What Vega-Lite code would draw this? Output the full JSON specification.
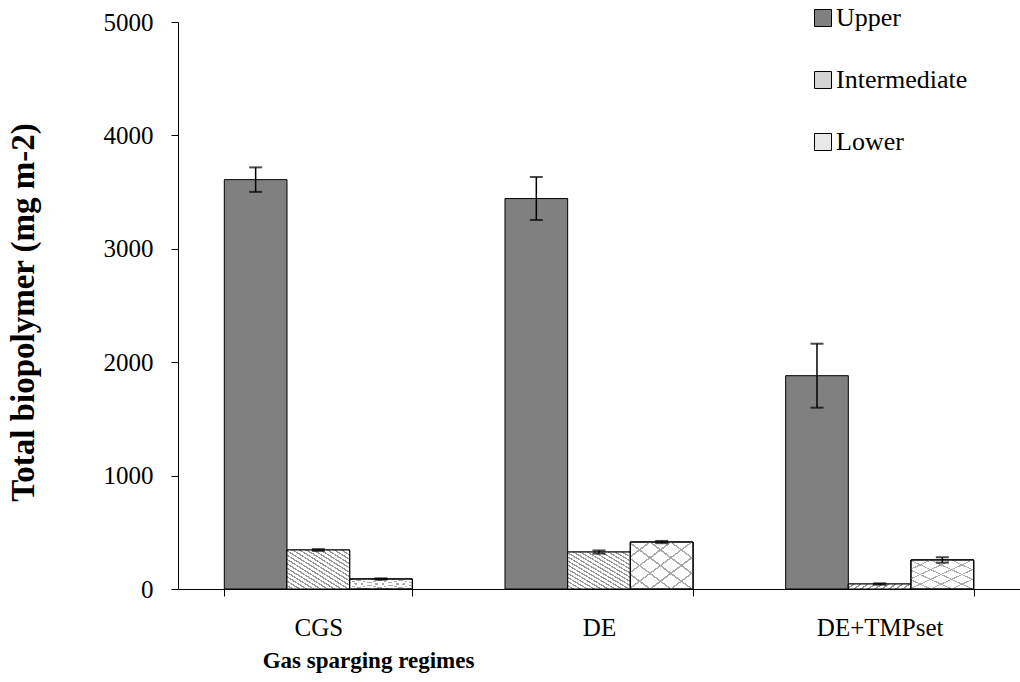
{
  "$schema": "https://vega.github.io/schema/vega-lite/v6.json",
  "width": 842,
  "height": 567,
  "autosize": {"type": "none"},
  "padding": {"left": 178, "top": 22, "right": 0, "bottom": 93},
  "background": "white",
  "config": {
    "font": "Liberation Serif",
    "view": {"stroke": null},
    "axis": {"grid": false, "domainColor": "#000", "tickColor": "#000", "labelColor": "#000", "titleColor": "#000", "labelFont": "Liberation Serif", "titleFont": "Liberation Serif"},
    "legend": {"labelFont": "Liberation Serif", "titleFont": "Liberation Serif"}
  },
  "data": {
    "values": [
      {"regime": "CGS", "position": "Upper", "value": 3610, "lo": 3502, "hi": 3718},
      {"regime": "CGS", "position": "Intermediate", "value": 344, "lo": 336, "hi": 352},
      {"regime": "CGS", "position": "Lower", "value": 88, "lo": 82, "hi": 94},
      {"regime": "DE", "position": "Upper", "value": 3443, "lo": 3254, "hi": 3633},
      {"regime": "DE", "position": "Intermediate", "value": 326, "lo": 312, "hi": 340},
      {"regime": "DE", "position": "Lower", "value": 414, "lo": 404, "hi": 424},
      {"regime": "DE+TMPset", "position": "Upper", "value": 1881, "lo": 1599, "hi": 2163},
      {"regime": "DE+TMPset", "position": "Intermediate", "value": 44, "lo": 38, "hi": 50},
      {"regime": "DE+TMPset", "position": "Lower", "value": 256, "lo": 232, "hi": 280}
    ]
  },
  "encoding": {
    "x": {
      "field": "regime", "type": "nominal", "sort": ["CGS", "DE", "DE+TMPset"],
      "scale": {"paddingInner": 0.33, "paddingOuter": 0.165},
      "axis": {
        "title": "Gas sparging regimes", "titleFontSize": 23, "titleFontWeight": "bold",
        "labelFontSize": 25, "labelAngle": 0, "tickBand": "extent", "tickSize": 7, "labelPadding": 19,
        "titleX": 190, "titleY": 78, "titleBaseline": "alphabetic", "titleAlign": "center"
      }
    },
    "xOffset": {
      "field": "position", "type": "nominal",
      "scale": {"domain": ["Upper", "Intermediate", "Lower"], "paddingInner": 0, "paddingOuter": 0}
    }
  },
  "layer": [
    {
      "mark": {"type": "bar", "stroke": "#000", "strokeWidth": 1},
      "encoding": {
        "y": {
          "field": "value", "type": "quantitative",
          "scale": {"domain": [0, 5000], "nice": false},
          "axis": {
            "title": "Total biopolymer (mg m-2)", "titleFontSize": 33, "titleFontWeight": "bold",
            "labelFontSize": 25, "values": [0, 1000, 2000, 3000, 4000, 5000], "format": "d",
            "tickSize": 7, "labelPadding": 18,
            "titleX": -155, "titleY": 290, "titleBaseline": "middle", "titleAlign": "center"
          }
        },
        "color": {
          "field": "position", "type": "nominal",
          "scale": {"domain": ["Upper", "Intermediate", "Lower"], "range": ["#808080", "#d4d4d4", "#e8e8e8"]},
          "legend": {
            "orient": "none", "legendX": 632, "legendY": -17, "title": null,
            "symbolType": "square", "symbolSize": 289, "symbolStrokeColor": "#000", "symbolStrokeWidth": 1,
            "labelFontSize": 26, "labelFont": "Liberation Serif", "labelColor": "#000",
            "rowPadding": 36, "labelOffset": 0, "padding": 0,
            "labelExpr": "datum.label",
            "encode": {"labels": {"update": {"font": {"value": "Liberation Serif"}, "fontSize": {"value": 26}}}}
          }
        }
      }
    },
    {
      "transform": [{"filter": "datum.position === 'Intermediate'"}],
      "mark": {
        "type": "bar", "stroke": "#000", "strokeWidth": 1,
        "fill": {
          "gradient": "linear", "x1": 0, "y1": 1, "x2": 1, "y2": 0,
          "stops": [
            {"offset": 0, "color": "#ffffff"}, {"offset": 0.0361, "color": "#ffffff"}, {"offset": 0.0361, "color": "#999999"}, {"offset": 0.0556, "color": "#999999"},
            {"offset": 0.0556, "color": "#ffffff"}, {"offset": 0.0917, "color": "#ffffff"}, {"offset": 0.0917, "color": "#999999"}, {"offset": 0.1111, "color": "#999999"},
            {"offset": 0.1111, "color": "#ffffff"}, {"offset": 0.1472, "color": "#ffffff"}, {"offset": 0.1472, "color": "#999999"}, {"offset": 0.1667, "color": "#999999"},
            {"offset": 0.1667, "color": "#ffffff"}, {"offset": 0.2028, "color": "#ffffff"}, {"offset": 0.2028, "color": "#999999"}, {"offset": 0.2222, "color": "#999999"},
            {"offset": 0.2222, "color": "#ffffff"}, {"offset": 0.2583, "color": "#ffffff"}, {"offset": 0.2583, "color": "#999999"}, {"offset": 0.2778, "color": "#999999"},
            {"offset": 0.2778, "color": "#ffffff"}, {"offset": 0.3139, "color": "#ffffff"}, {"offset": 0.3139, "color": "#999999"}, {"offset": 0.3333, "color": "#999999"},
            {"offset": 0.3333, "color": "#ffffff"}, {"offset": 0.3694, "color": "#ffffff"}, {"offset": 0.3694, "color": "#999999"}, {"offset": 0.3889, "color": "#999999"},
            {"offset": 0.3889, "color": "#ffffff"}, {"offset": 0.425, "color": "#ffffff"}, {"offset": 0.425, "color": "#999999"}, {"offset": 0.4444, "color": "#999999"},
            {"offset": 0.4444, "color": "#ffffff"}, {"offset": 0.4806, "color": "#ffffff"}, {"offset": 0.4806, "color": "#999999"}, {"offset": 0.5, "color": "#999999"},
            {"offset": 0.5, "color": "#ffffff"}, {"offset": 0.5361, "color": "#ffffff"}, {"offset": 0.5361, "color": "#999999"}, {"offset": 0.5556, "color": "#999999"},
            {"offset": 0.5556, "color": "#ffffff"}, {"offset": 0.5917, "color": "#ffffff"}, {"offset": 0.5917, "color": "#999999"}, {"offset": 0.6111, "color": "#999999"},
            {"offset": 0.6111, "color": "#ffffff"}, {"offset": 0.6472, "color": "#ffffff"}, {"offset": 0.6472, "color": "#999999"}, {"offset": 0.6667, "color": "#999999"},
            {"offset": 0.6667, "color": "#ffffff"}, {"offset": 0.7028, "color": "#ffffff"}, {"offset": 0.7028, "color": "#999999"}, {"offset": 0.7222, "color": "#999999"},
            {"offset": 0.7222, "color": "#ffffff"}, {"offset": 0.7583, "color": "#ffffff"}, {"offset": 0.7583, "color": "#999999"}, {"offset": 0.7778, "color": "#999999"},
            {"offset": 0.7778, "color": "#ffffff"}, {"offset": 0.8139, "color": "#ffffff"}, {"offset": 0.8139, "color": "#999999"}, {"offset": 0.8333, "color": "#999999"},
            {"offset": 0.8333, "color": "#ffffff"}, {"offset": 0.8694, "color": "#ffffff"}, {"offset": 0.8694, "color": "#999999"}, {"offset": 0.8889, "color": "#999999"},
            {"offset": 0.8889, "color": "#ffffff"}, {"offset": 0.925, "color": "#ffffff"}, {"offset": 0.925, "color": "#999999"}, {"offset": 0.9444, "color": "#999999"},
            {"offset": 0.9444, "color": "#ffffff"}, {"offset": 0.9806, "color": "#ffffff"}, {"offset": 0.9806, "color": "#999999"}, {"offset": 1, "color": "#999999"}
          ]
        }
      },
      "encoding": {"y": {"field": "value", "type": "quantitative"}}
    },
    {
      "transform": [{"filter": "datum.position === 'Lower'"}],
      "mark": {
        "type": "bar", "stroke": "#000", "strokeWidth": 1,
        "fill": {
          "gradient": "linear", "x1": 0, "y1": 1, "x2": 1, "y2": 0,
          "stops": [
            {"offset": 0, "color": "#ffffff"}, {"offset": 0.1467, "color": "#ffffff"}, {"offset": 0.1467, "color": "#aaaaaa"}, {"offset": 0.1667, "color": "#aaaaaa"},
            {"offset": 0.1667, "color": "#ffffff"}, {"offset": 0.3133, "color": "#ffffff"}, {"offset": 0.3133, "color": "#aaaaaa"}, {"offset": 0.3333, "color": "#aaaaaa"},
            {"offset": 0.3333, "color": "#ffffff"}, {"offset": 0.48, "color": "#ffffff"}, {"offset": 0.48, "color": "#aaaaaa"}, {"offset": 0.5, "color": "#aaaaaa"},
            {"offset": 0.5, "color": "#ffffff"}, {"offset": 0.6467, "color": "#ffffff"}, {"offset": 0.6467, "color": "#aaaaaa"}, {"offset": 0.6667, "color": "#aaaaaa"},
            {"offset": 0.6667, "color": "#ffffff"}, {"offset": 0.8133, "color": "#ffffff"}, {"offset": 0.8133, "color": "#aaaaaa"}, {"offset": 0.8333, "color": "#aaaaaa"},
            {"offset": 0.8333, "color": "#ffffff"}, {"offset": 0.98, "color": "#ffffff"}, {"offset": 0.98, "color": "#aaaaaa"}, {"offset": 1, "color": "#aaaaaa"}
          ]
        }
      },
      "encoding": {"y": {"field": "value", "type": "quantitative"}}
    },
    {
      "transform": [{"filter": "datum.position === 'Lower'"}],
      "mark": {
        "type": "bar", "stroke": "#000", "strokeWidth": 1,
        "fill": {
          "gradient": "linear", "x1": 0, "y1": 0, "x2": 1, "y2": 1,
          "stops": [
            {"offset": 0, "color": "rgba(255,255,255,0)"}, {"offset": 0.1467, "color": "rgba(255,255,255,0)"}, {"offset": 0.1467, "color": "#aaaaaa"}, {"offset": 0.1667, "color": "#aaaaaa"},
            {"offset": 0.1667, "color": "rgba(255,255,255,0)"}, {"offset": 0.3133, "color": "rgba(255,255,255,0)"}, {"offset": 0.3133, "color": "#aaaaaa"}, {"offset": 0.3333, "color": "#aaaaaa"},
            {"offset": 0.3333, "color": "rgba(255,255,255,0)"}, {"offset": 0.48, "color": "rgba(255,255,255,0)"}, {"offset": 0.48, "color": "#aaaaaa"}, {"offset": 0.5, "color": "#aaaaaa"},
            {"offset": 0.5, "color": "rgba(255,255,255,0)"}, {"offset": 0.6467, "color": "rgba(255,255,255,0)"}, {"offset": 0.6467, "color": "#aaaaaa"}, {"offset": 0.6667, "color": "#aaaaaa"},
            {"offset": 0.6667, "color": "rgba(255,255,255,0)"}, {"offset": 0.8133, "color": "rgba(255,255,255,0)"}, {"offset": 0.8133, "color": "#aaaaaa"}, {"offset": 0.8333, "color": "#aaaaaa"},
            {"offset": 0.8333, "color": "rgba(255,255,255,0)"}, {"offset": 0.98, "color": "rgba(255,255,255,0)"}, {"offset": 0.98, "color": "#aaaaaa"}, {"offset": 1, "color": "#aaaaaa"}
          ]
        }
      },
      "encoding": {"y": {"field": "value", "type": "quantitative"}}
    },
    {
      "mark": {"type": "rule", "color": "#000", "strokeWidth": 1.5},
      "encoding": {
        "y": {"field": "lo", "type": "quantitative"},
        "y2": {"field": "hi"}
      }
    },
    {
      "mark": {"type": "tick", "color": "#000", "size": 13, "thickness": 2},
      "encoding": {"y": {"field": "lo", "type": "quantitative"}}
    },
    {
      "mark": {"type": "tick", "color": "#000", "size": 13, "thickness": 2},
      "encoding": {"y": {"field": "hi", "type": "quantitative"}}
    }
  ]
}
